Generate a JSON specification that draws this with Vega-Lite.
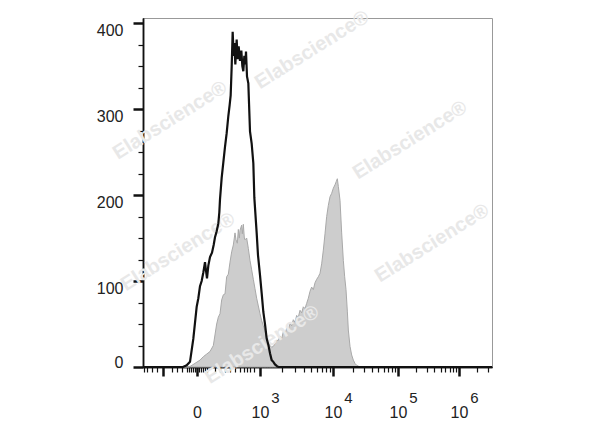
{
  "$schema": "https://vega.github.io/schema/vega-lite/v6.json",
  "width": 349,
  "height": 349,
  "autosize": "none",
  "padding": {"left": 143, "top": 18, "right": 108, "bottom": 60},
  "background": "white",
  "config": {
    "view": {"stroke": "#999999", "strokeWidth": 1},
    "axis": {"labelFont": "Liberation Sans", "labelColor": "#222222", "tickColor": "#111111", "domainColor": "#111111", "domainWidth": 1.5, "grid": false, "zindex": 1, "labelOverlap": false, "labelFlush": false}
  },
  "datasets": {
    "grey": [
      {"ch": 0, "count": 0}, {"ch": 138, "count": 0}, {"ch": 147, "count": 2}, {"ch": 159, "count": 5},
      {"ch": 171, "count": 8}, {"ch": 181, "count": 12}, {"ch": 191, "count": 15}, {"ch": 201, "count": 18},
      {"ch": 211, "count": 25}, {"ch": 221, "count": 50}, {"ch": 226, "count": 58}, {"ch": 231, "count": 62},
      {"ch": 236, "count": 78}, {"ch": 241, "count": 84}, {"ch": 246, "count": 85}, {"ch": 251, "count": 105},
      {"ch": 256, "count": 108}, {"ch": 261, "count": 122}, {"ch": 266, "count": 134}, {"ch": 271, "count": 142},
      {"ch": 276, "count": 156}, {"ch": 279, "count": 148}, {"ch": 283, "count": 144}, {"ch": 286, "count": 160},
      {"ch": 289, "count": 150}, {"ch": 291, "count": 159}, {"ch": 296, "count": 165}, {"ch": 298, "count": 155},
      {"ch": 301, "count": 166}, {"ch": 304, "count": 150}, {"ch": 306, "count": 148}, {"ch": 311, "count": 150},
      {"ch": 316, "count": 138}, {"ch": 321, "count": 124}, {"ch": 326, "count": 113}, {"ch": 331, "count": 102},
      {"ch": 336, "count": 91}, {"ch": 341, "count": 80}, {"ch": 346, "count": 71}, {"ch": 351, "count": 62},
      {"ch": 356, "count": 54}, {"ch": 361, "count": 48}, {"ch": 366, "count": 42}, {"ch": 371, "count": 33},
      {"ch": 376, "count": 30}, {"ch": 381, "count": 25}, {"ch": 386, "count": 23}, {"ch": 391, "count": 24},
      {"ch": 396, "count": 27}, {"ch": 401, "count": 31}, {"ch": 406, "count": 31}, {"ch": 411, "count": 36},
      {"ch": 416, "count": 33}, {"ch": 421, "count": 41}, {"ch": 426, "count": 38}, {"ch": 431, "count": 45},
      {"ch": 436, "count": 43}, {"ch": 441, "count": 51}, {"ch": 446, "count": 48}, {"ch": 451, "count": 55},
      {"ch": 456, "count": 52}, {"ch": 461, "count": 60}, {"ch": 466, "count": 58}, {"ch": 471, "count": 66},
      {"ch": 476, "count": 63}, {"ch": 481, "count": 70}, {"ch": 486, "count": 68}, {"ch": 491, "count": 74},
      {"ch": 496, "count": 80}, {"ch": 501, "count": 88}, {"ch": 506, "count": 93}, {"ch": 511, "count": 90},
      {"ch": 516, "count": 98}, {"ch": 521, "count": 102}, {"ch": 526, "count": 105}, {"ch": 531, "count": 109},
      {"ch": 536, "count": 120}, {"ch": 541, "count": 136}, {"ch": 546, "count": 155}, {"ch": 551, "count": 175},
      {"ch": 556, "count": 188}, {"ch": 561, "count": 198}, {"ch": 566, "count": 202}, {"ch": 571, "count": 208},
      {"ch": 576, "count": 212}, {"ch": 580, "count": 216}, {"ch": 583, "count": 219}, {"ch": 586, "count": 210},
      {"ch": 591, "count": 194}, {"ch": 596, "count": 156}, {"ch": 601, "count": 124}, {"ch": 605, "count": 105},
      {"ch": 609, "count": 90}, {"ch": 613, "count": 65}, {"ch": 616, "count": 43}, {"ch": 621, "count": 24},
      {"ch": 626, "count": 14}, {"ch": 631, "count": 8}, {"ch": 636, "count": 4}, {"ch": 641, "count": 2},
      {"ch": 646, "count": 1}, {"ch": 651, "count": 0}, {"ch": 1047, "count": 0}
    ],
    "black": [
      {"ch": 0, "count": 0}, {"ch": 120, "count": 0}, {"ch": 131, "count": 2}, {"ch": 141, "count": 6},
      {"ch": 151, "count": 33}, {"ch": 161, "count": 70}, {"ch": 166, "count": 80}, {"ch": 171, "count": 94},
      {"ch": 176, "count": 100}, {"ch": 181, "count": 110}, {"ch": 186, "count": 122}, {"ch": 189, "count": 112},
      {"ch": 192, "count": 103}, {"ch": 196, "count": 118}, {"ch": 201, "count": 128}, {"ch": 207, "count": 133},
      {"ch": 212, "count": 142}, {"ch": 216, "count": 151}, {"ch": 221, "count": 158}, {"ch": 226, "count": 167},
      {"ch": 229, "count": 180}, {"ch": 231, "count": 195}, {"ch": 236, "count": 220}, {"ch": 241, "count": 238},
      {"ch": 246, "count": 256}, {"ch": 251, "count": 272}, {"ch": 256, "count": 292}, {"ch": 260, "count": 305},
      {"ch": 263, "count": 316}, {"ch": 266, "count": 349}, {"ch": 269, "count": 390}, {"ch": 272, "count": 362},
      {"ch": 274, "count": 377}, {"ch": 277, "count": 352}, {"ch": 281, "count": 381}, {"ch": 284, "count": 358},
      {"ch": 287, "count": 373}, {"ch": 291, "count": 356}, {"ch": 295, "count": 368}, {"ch": 298, "count": 350},
      {"ch": 301, "count": 344}, {"ch": 304, "count": 362}, {"ch": 307, "count": 352}, {"ch": 309, "count": 367},
      {"ch": 312, "count": 338}, {"ch": 316, "count": 330}, {"ch": 321, "count": 274}, {"ch": 326, "count": 260},
      {"ch": 331, "count": 237}, {"ch": 334, "count": 197}, {"ch": 341, "count": 156}, {"ch": 345, "count": 130},
      {"ch": 351, "count": 107}, {"ch": 356, "count": 86}, {"ch": 361, "count": 64}, {"ch": 366, "count": 50},
      {"ch": 371, "count": 33}, {"ch": 376, "count": 26}, {"ch": 381, "count": 16}, {"ch": 386, "count": 8},
      {"ch": 391, "count": 6}, {"ch": 396, "count": 3}, {"ch": 402, "count": 1}, {"ch": 406, "count": 0},
      {"ch": 1047, "count": 0}
    ],
    "wm": [
      {"ch": 81, "count": 287, "label": "Elabscience®"},
      {"ch": 507, "count": 369, "label": "Elabscience®"},
      {"ch": 801, "count": 264, "label": "Elabscience®"},
      {"ch": 105, "count": 134, "label": "Elabscience®"},
      {"ch": 867, "count": 144, "label": "Elabscience®"},
      {"ch": 357, "count": 26, "label": "Elabscience®"}
    ]
  },
  "layer": [
    {
      "data": {"name": "grey"},
      "mark": {"type": "area", "fill": "#cdcdcd", "stroke": "#a9a9a9", "strokeWidth": 1},
      "encoding": {
        "x": {"field": "ch", "type": "quantitative", "scale": {"domain": [0, 1047], "nice": false, "zero": false},
          "axis": {"orient": "bottom", "title": null, "values": [60, 162, 351, 570, 765, 948],
            "labelExpr": "datum.value == 162 ? '0' : (datum.value == 60 ? '' : '10')",
            "tickSize": 9, "tickWidth": 2.5, "labelFontSize": 16, "labelPadding": 28}},
        "y": {"field": "count", "type": "quantitative", "stack": null, "scale": {"domain": [0, 406], "nice": false},
          "axis": {"orient": "left", "title": null, "values": [0, 100, 200, 300, 400],
            "tickSize": 10, "tickWidth": 2.5, "labelFontSize": 16, "labelPadding": 10,
            "labelOffset": {"condition": {"test": "datum.value == 0", "value": -5}, "value": 7}}}
      }
    },
    {
      "data": {"name": "wm"},
      "mark": {"type": "text", "font": "Liberation Sans", "fontWeight": "bold", "fontSize": 20, "angle": 328, "color": "#e8e8e8", "align": "center", "baseline": "middle"},
      "encoding": {
        "x": {"field": "ch", "type": "quantitative",
          "axis": {"orient": "bottom", "title": null, "values": [351, 570, 765, 948], "domain": false, "tickSize": 0, "tickOpacity": 0,
            "labelExpr": "datum.value == 351 ? '3' : (datum.value == 570 ? '4' : (datum.value == 765 ? '5' : '6'))",
            "labelFontSize": 15, "labelPadding": 23, "labelOffset": 15}},
        "y": {"field": "count", "type": "quantitative",
          "axis": {"orient": "left", "title": null, "values": [25, 50, 75, 125, 150, 175, 225, 250, 275, 325, 350, 375],
            "labels": false, "tickSize": 5, "tickWidth": 1.2}},
        "text": {"field": "label"}
      }
    },
    {
      "data": {"name": "black"},
      "mark": {"type": "line", "color": "#111111", "strokeWidth": 2.2},
      "encoding": {
        "x": {"field": "ch", "type": "quantitative",
          "axis": {"orient": "bottom", "title": null, "labels": false, "tickSize": 5, "tickWidth": 1.2,
            "values": [3, 12, 27, 42, 87, 102, 117, 132, 138, 144, 150, 156, 168, 174, 180, 186, 192, 216, 231, 246, 261, 276, 291, 303, 312, 321, 333, 417, 456, 483, 504, 522, 537, 549, 561, 629, 663, 687, 705, 722, 735, 747, 756, 819, 852, 873, 894, 907, 920, 930, 939, 1003, 1035]}},
        "y": {"field": "count", "type": "quantitative", "axis": null}
      }
    }
  ],
  "resolve": {"axis": {"x": "independent", "y": "independent"}}
}
